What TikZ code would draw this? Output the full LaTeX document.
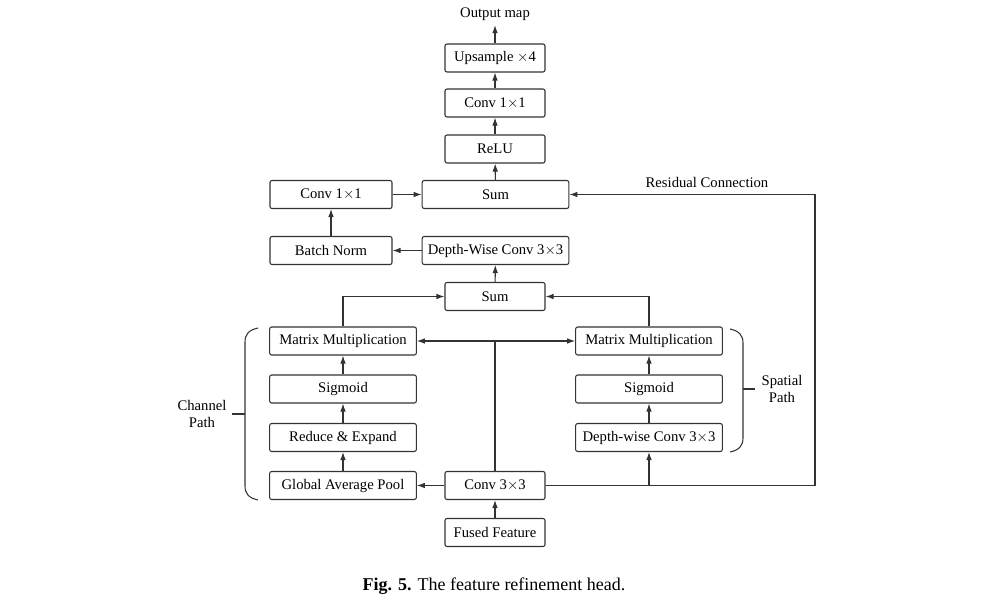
\documentclass[tikz,border=0pt]{standalone}
\usepackage{fontspec}
\setmainfont{Liberation Serif}
\usetikzlibrary{arrows.meta}
\begin{document}
\begin{tikzpicture}[x=0.75pt,y=-0.75pt,
  box/.style={draw=black!80, line width=0.8pt, rounded corners=1.5pt, minimum height=21pt, inner sep=1pt, font=\fontsize{11}{13}\selectfont},
  bw/.style={box, minimum width=75pt},
  bm/.style={box, minimum width=110pt},
  bs/.style={box, minimum width=91.5pt},
  conn/.style={draw=black!80, line width=0.8pt, -{Latex[length=6pt,width=4.2pt]}},
  plain/.style={draw=black!80, line width=0.8pt},
  lbl/.style={font=\fontsize{11}{13}\selectfont, align=center}]
\useasboundingbox (0,0) rectangle (985,603);
% main column
\node[lbl] (out) at (495,14) {Output map};
\node[bw] (up) at (495,58) {Upsample $\times$4};
\node[bw] (c11) at (495,103) {Conv 1$\times$1};
\node[bw] (relu) at (495,149) {ReLU};
\node[bm] (sum1) at (495.5,194.5) {Sum};
\node[bs] (lc11) at (331,194.5) {Conv 1$\times$1};
\node[bs] (bn) at (331,250.5) {Batch Norm};
\node[bm] (dw) at (495.5,250.5) {Depth-Wise Conv 3$\times$3};
\node[bw] (sum2) at (495,296.5) {Sum};
% channel path
\node[bm] (mml) at (343,341) {Matrix Multiplication};
\node[bm] (sgl) at (343,389) {Sigmoid};
\node[bm] (re) at (343,437.5) {Reduce \& Expand};
\node[bm] (gap) at (343,485.5) {Global Average Pool};
% center bottom
\node[bw] (c33) at (495,485.5) {Conv 3$\times$3};
\node[bw] (ff) at (495,532.5) {Fused Feature};
% spatial path
\node[bm] (mmr) at (649,341) {Matrix Multiplication};
\node[bm] (sgr) at (649,389) {Sigmoid};
\node[bm] (dwr) at (649,437.5) {Depth-wise Conv 3$\times$3};
% labels
\node[lbl] (rc) at (707,182.5) {Residual Connection};
\node[lbl] (cp) at (202,414) {Channel\\Path};
\node[lbl] (sp) at (782,389) {Spatial\\Path};
\node[font=\fontsize{13.5}{16}\selectfont] (cap) at (494,586) {\textbf{Fig. 5.} The feature refinement head.};
% coordinates
\coordinate (res1) at (815,485.5);
\coordinate (res2) at (815,194.5);
\coordinate (junc) at (495,341);
\coordinate (sp1) at (649,485.5);
% connectors
\draw[conn] (ff) -- (c33);
\draw[conn] (c33) -- (gap);
\draw[conn] (gap) -- (re);
\draw[conn] (re) -- (sgl);
\draw[conn] (sgl) -- (mml);
\draw[conn] (dwr) -- (sgr);
\draw[conn] (sgr) -- (mmr);
\draw[plain] (c33.north) -- (junc);
\draw[conn] (junc) -- (mml.east);
\draw[conn] (junc) -- (mmr.west);
\draw[plain] (c33.east) -- (res1);
\draw[conn] (sp1) -- (dwr.south);
\draw[conn] (res1) -- (res2) -- (sum1.east);
\draw[conn] (mml.north) |- (sum2.west);
\draw[conn] (mmr.north) |- (sum2.east);
\draw[conn] (sum2) -- (dw);
\draw[conn] (dw) -- (bn);
\draw[conn] (bn) -- (lc11);
\draw[conn] (lc11) -- (sum1);
\draw[conn] (sum1) -- (relu);
\draw[conn] (relu) -- (c11);
\draw[conn] (c11) -- (up);
\draw[conn] (up) -- (out);
% braces
\draw[plain] (258,328) .. controls (249,330) and (245,334) .. (245,342) -- (245,486) .. controls (245,494) and (249,498) .. (258,500);
\draw[plain] (245,414) -- (232,414);
\draw[plain] (730,329) .. controls (739,331) and (743,335) .. (743,343) -- (743,438) .. controls (743,446) and (739,450) .. (730,452);
\draw[plain] (743,389) -- (755,389);
\end{tikzpicture}
\end{document}
